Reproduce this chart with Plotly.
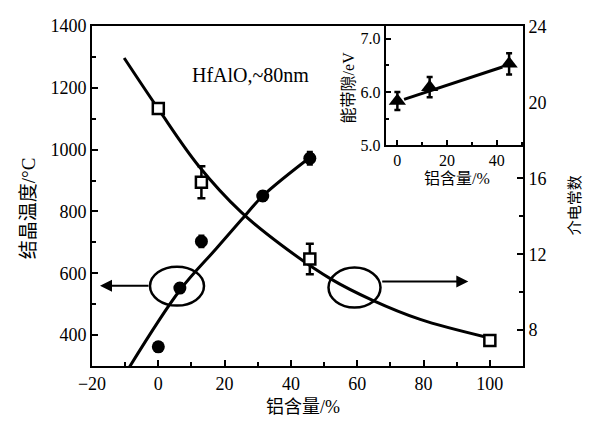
import plotly.graph_objects as go

# ---- main plot: crystallization temperature (left axis) ----
al_temp = [0, 6.5, 13, 31.5, 45.7]
temp = [362, 552, 703, 850, 972]
temp_err = [15, 15, 18, 15, 20]
temp_fit_x = [-8.8, 6.5, 17.5, 25, 31.5, 47]
temp_fit_y = [295, 545, 680, 772, 850, 985]

# ---- main plot: dielectric constant (right axis) ----
al_k = [0, 13, 45.7, 100]
k = [19.7, 15.8, 11.75, 7.45]
k_err = [0.25, 0.85, 0.8, 0.2]
k_fit_x = [-10.3, 0, 12, 25, 37, 52, 64.5, 79, 99]
k_fit_y = [22.36, 19.67, 16.7, 14.22, 12.5, 10.7, 9.58, 8.56, 7.62]

# ---- inset: band gap ----
al_gap = [0, 13, 45]
gap = [5.83, 6.09, 6.53]
gap_err = [0.17, 0.19, 0.2]
gap_fit_x = [2.7, 42.3]
gap_fit_y = [5.86, 6.47]

SERIF = "Liberation Serif, Noto Sans CJK SC, serif"

# page offset of the plot div (default body margin)
OFF = 8
W, H = 591, 421
# plot-area pixel geometry in window coordinates
L, R, T, B = 92, 523, 17, 366
def px(x):
    return (x - L) / (R - L)
def py(y):
    return (B - y) / (B - T)

fig = go.Figure()

fig.add_trace(go.Scatter(x=temp_fit_x, y=temp_fit_y, mode="lines",
                         line=dict(color="black", width=3, shape="spline"),
                         xaxis="x", yaxis="y", showlegend=False))
fig.add_trace(go.Scatter(x=al_temp, y=temp, mode="markers",
                         marker=dict(symbol="circle", size=13, color="black"),
                         error_y=dict(type="data", array=temp_err, color="black",
                                      thickness=2.5, width=3),
                         xaxis="x", yaxis="y", showlegend=False))
fig.add_trace(go.Scatter(x=k_fit_x, y=k_fit_y, mode="lines",
                         line=dict(color="black", width=3, shape="spline"),
                         xaxis="x", yaxis="y2", showlegend=False))
fig.add_trace(go.Scatter(x=al_k, y=k, mode="markers",
                         marker=dict(symbol="square", size=11, color="white",
                                     line=dict(color="black", width=2.5)),
                         error_y=dict(type="data", array=k_err, color="black",
                                      thickness=2.5, width=4),
                         xaxis="x", yaxis="y2", showlegend=False))

# inset
fig.add_trace(go.Scatter(x=gap_fit_x, y=gap_fit_y, mode="lines",
                         line=dict(color="black", width=3),
                         xaxis="x3", yaxis="y3", showlegend=False))
fig.add_trace(go.Scatter(x=al_gap, y=gap, mode="markers",
                         marker=dict(symbol="triangle-up", size=15, color="black"),
                         error_y=dict(type="data", array=gap_err, color="black",
                                      thickness=2.5, width=3),
                         xaxis="x3", yaxis="y3", showlegend=False))

tickfont = dict(family=SERIF, size=18, color="black")

fig.update_layout(
    width=W, height=H,
    margin=dict(l=L - OFF, r=W - R + OFF, t=T - OFF, b=H - B + OFF),
    paper_bgcolor="white", plot_bgcolor="white",
    xaxis=dict(domain=[0, 1], range=[-20, 110], tick0=-20, dtick=20,
               ticks="inside", ticklen=6, tickwidth=1.5, tickcolor="black",
               minor=dict(dtick=10, tick0=0, ticks="inside", ticklen=4, tickcolor="black"),
               showline=True, linecolor="black", linewidth=2, mirror=True,
               showgrid=False, zeroline=False, tickfont=tickfont, anchor="y"),
    yaxis=dict(range=[300, 1400], tick0=400, dtick=200,
               ticks="inside", ticklen=6, tickwidth=1.5, tickcolor="black",
               minor=dict(dtick=100, tick0=300, ticks="inside", ticklen=4, tickcolor="black"),
               showline=True, linecolor="black", linewidth=2,
               showgrid=False, zeroline=False, tickfont=tickfont, anchor="x"),
    yaxis2=dict(range=[6.1, 24.05], tick0=8, dtick=4, overlaying="y", side="right",
                ticks="inside", ticklen=6, tickwidth=1.5, tickcolor="black",
                minor=dict(dtick=2, tick0=8, ticks="inside", ticklen=4, tickcolor="black"),
                showline=True, linecolor="black", linewidth=2,
                showgrid=False, zeroline=False, tickfont=tickfont, anchor="x"),
    xaxis3=dict(domain=[px(385.7), 1.0], range=[-4.7, 50.6], tick0=0, dtick=20,
                ticks="inside", ticklen=5, tickwidth=1.5, tickcolor="black",
                minor=dict(dtick=10, tick0=0, ticks="inside", ticklen=3, tickcolor="black"),
                showline=True, linecolor="black", linewidth=2,
                showgrid=False, zeroline=False, anchor="y3",
                tickfont=dict(family=SERIF, size=16, color="black")),
    yaxis3=dict(domain=[py(139.3), 1.0], range=[5.0, 7.24], tick0=5, dtick=1,
                tickformat=".1f",
                ticks="inside", ticklen=5, tickwidth=1.5, tickcolor="black",
                minor=dict(dtick=0.5, tick0=5, ticks="inside", ticklen=3, tickcolor="black"),
                showline=True, linecolor="black", linewidth=2,
                showgrid=False, zeroline=False, anchor="x3",
                tickfont=dict(family=SERIF, size=16, color="black")),
)

# ellipses
fig.add_shape(type="circle", xref="paper", yref="paper",
              x0=px(150), x1=px(204), y0=py(304), y1=py(264),
              line=dict(color="black", width=2.5))
fig.add_shape(type="circle", xref="paper", yref="paper",
              x0=px(328.5), x1=px(380.5), y0=py(306), y1=py(265),
              line=dict(color="black", width=2.5))

# arrows
fig.add_annotation(x=px(100), y=py(283.5), xref="paper", yref="paper",
                   ax=50, ay=0, axref="pixel", ayref="pixel", text="",
                   showarrow=True, arrowhead=2, arrowsize=1.2, arrowwidth=2,
                   arrowcolor="black")
fig.add_annotation(x=px(468.3), y=py(279.3), xref="paper", yref="paper",
                   ax=-87.6, ay=0, axref="pixel", ayref="pixel", text="",
                   showarrow=True, arrowhead=2, arrowsize=1.2, arrowwidth=2,
                   arrowcolor="black")

def label(text, x, y, size, angle=0):
    fig.add_annotation(x=px(x), y=py(y), xref="paper", yref="paper",
                       xanchor="center", yanchor="middle",
                       text=text, showarrow=False, textangle=angle,
                       font=dict(family=SERIF, size=size, color="black"))

label("HfAlO,~80nm", 250, 67, 20)
label("铝含量/%", 303, 408, 18)
label("结晶温度/°C", 28, 204, 19, -90)
label("介电常数", 575, 201, 15, -90)
label("铝含量/%", 457, 174, 16)
label("能带隙/eV", 348, 80, 16, -90)

fig.write_html("out.html")
